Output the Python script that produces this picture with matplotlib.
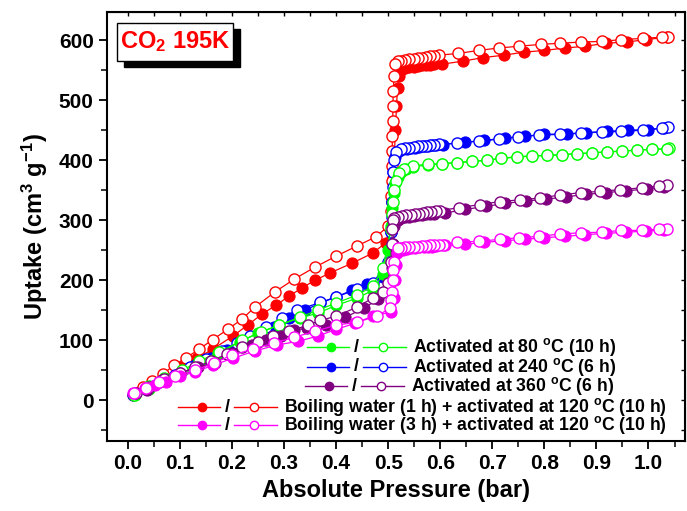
import matplotlib
matplotlib.use('Agg')
import matplotlib.pyplot as plt
from matplotlib.patches import Rectangle
from matplotlib.ticker import MultipleLocator

plt.rcParams['font.family'] = ['Liberation Sans', 'DejaVu Sans']
plt.rcParams['font.weight'] = 'bold'
plt.rcParams['mathtext.fontset'] = 'custom'
plt.rcParams['mathtext.rm'] = 'Liberation Sans:bold'
plt.rcParams['mathtext.bf'] = 'Liberation Sans:bold'
plt.rcParams['mathtext.it'] = 'Liberation Sans:bold'

# ---- data ----
# boiling water 1 h + 120 C
p_ads_red = [0.01, 0.04, 0.07, 0.105, 0.133, 0.163, 0.202, 0.23, 0.257, 0.284, 0.309, 0.334, 0.36, 0.388,
             0.43, 0.47, 0.495, 0.505, 0.508, 0.51, 0.512, 0.514, 0.516, 0.518, 0.52, 0.525, 0.533, 0.541,
             0.549, 0.557, 0.565, 0.573, 0.581, 0.589, 0.603, 0.643, 0.682, 0.722, 0.76, 0.80, 0.84, 0.879,
             0.919, 0.958, 0.996, 1.035]
v_ads_red = [8, 22, 38, 55, 70, 85, 107, 125, 143, 158, 173, 187, 200, 212,
             228, 245, 262, 290, 330, 370, 410, 450, 490, 520, 540, 550, 553, 555,
             556, 557, 558, 559, 559, 560, 560, 565, 571, 575, 580, 583, 587, 590,
             595, 597, 601, 605]
p_des_red = [1.038, 1.025, 0.989, 0.948, 0.91, 0.871, 0.831, 0.793, 0.752, 0.712, 0.674, 0.635, 0.597,
             0.589, 0.581, 0.573, 0.565, 0.557, 0.549, 0.541, 0.533, 0.525, 0.518, 0.513, 0.511, 0.51,
             0.509, 0.509, 0.508, 0.508, 0.507, 0.507, 0.506, 0.505, 0.50, 0.476, 0.44, 0.40, 0.36, 0.32,
             0.282, 0.244, 0.219, 0.192, 0.163, 0.137, 0.111, 0.088, 0.067, 0.046, 0.029]
v_des_red = [606, 605, 603, 601, 598, 597, 595, 593, 590, 587, 583, 578, 575,
             574, 573, 572, 571, 570, 569, 568, 567, 566, 565, 560, 540, 515,
             490, 465, 440, 415, 390, 365, 340, 315, 290, 272, 257, 240, 222, 202,
             180, 155, 135, 118, 101, 85, 70, 58, 43, 32, 22]

# activated 240 C
p_ads_blue = [0.01, 0.04, 0.07, 0.10, 0.13, 0.16, 0.19, 0.22, 0.25, 0.28, 0.31, 0.34, 0.37, 0.40, 0.43,
              0.46, 0.49, 0.50, 0.505, 0.508, 0.51, 0.513, 0.52, 0.528, 0.536, 0.544, 0.552, 0.56, 0.568,
              0.576, 0.584, 0.592, 0.605, 0.647, 0.685, 0.725, 0.763, 0.80, 0.843, 0.88, 0.92, 0.96, 1.0, 1.03]
v_ads_blue = [8, 20, 33, 45, 58, 70, 83, 95, 108, 122, 137, 150, 162, 172, 183,
              193, 205, 225, 280, 330, 380, 405, 415, 418, 419, 420, 421, 422, 423,
              424, 425, 425, 426, 430, 433, 437, 440, 443, 444, 446, 448, 450, 451, 454]
p_des_blue = [1.038, 1.025, 0.989, 0.948, 0.91, 0.87, 0.831, 0.79, 0.75, 0.712, 0.674, 0.633, 0.597,
              0.589, 0.581, 0.573, 0.565, 0.557, 0.549, 0.541, 0.533, 0.525, 0.516, 0.512, 0.51, 0.509,
              0.508, 0.507, 0.506, 0.505, 0.50, 0.47, 0.44, 0.40, 0.37, 0.325, 0.296, 0.265, 0.235, 0.21,
              0.18, 0.15, 0.12, 0.09, 0.06, 0.035]
v_des_blue = [455, 453, 450, 448, 447, 445, 443, 442, 439, 435, 432, 428, 427,
              426, 425, 424, 423, 423, 422, 421, 420, 418, 413, 400, 380, 355,
              330, 305, 280, 255, 230, 195, 185, 172, 163, 150, 137, 122, 107, 95,
              82, 68, 55, 42, 30, 18]

# activated 80 C
p_ads_green = [0.013, 0.04, 0.07, 0.104, 0.137, 0.173, 0.215, 0.25, 0.29, 0.33, 0.365, 0.40, 0.44, 0.47,
               0.49, 0.50, 0.505, 0.508, 0.512, 0.514, 0.518, 0.525, 0.535, 0.547, 0.576, 0.603, 0.632,
               0.661, 0.69, 0.717, 0.747, 0.776, 0.805, 0.834, 0.863, 0.891, 0.92, 0.949, 0.978, 1.007, 1.036]
v_ads_green = [8, 18, 32, 48, 62, 78, 97, 112, 125, 137, 145, 158, 170, 183,
               210, 250, 290, 320, 345, 362, 372, 380, 385, 389, 392, 394, 396,
               398, 400, 403, 405, 407, 408, 409, 411, 412, 414, 415, 417, 418, 419]
p_des_green = [1.04, 1.036, 1.007, 0.978, 0.949, 0.92, 0.891, 0.863, 0.834, 0.805, 0.776, 0.747, 0.717,
               0.69, 0.661, 0.632, 0.603, 0.576, 0.547, 0.53, 0.52, 0.515, 0.512, 0.51, 0.508, 0.505,
               0.49, 0.47, 0.44, 0.40, 0.365, 0.33, 0.29, 0.255, 0.22, 0.175, 0.137, 0.105, 0.07, 0.04, 0.012]
v_des_green = [420, 419, 418, 417, 415, 414, 412, 411, 409, 408, 407, 406, 403,
               400, 398, 396, 394, 393, 391, 385, 378, 365, 350, 330, 310, 285,
               220, 190, 175, 162, 150, 138, 125, 113, 100, 80, 65, 50, 37, 23, 8]

# activated 360 C
p_ads_purple = [0.014, 0.036, 0.066, 0.10, 0.135, 0.167, 0.20, 0.238, 0.265, 0.295, 0.32, 0.345, 0.38,
                0.417, 0.453, 0.48, 0.503, 0.508, 0.51, 0.512, 0.518, 0.525, 0.533, 0.541, 0.549, 0.557,
                0.565, 0.573, 0.581, 0.589, 0.61, 0.648, 0.687, 0.725, 0.765, 0.803, 0.842, 0.88, 0.918,
                0.957, 0.998, 1.03]
v_ads_purple = [12, 17, 33, 45, 55, 62, 78, 92, 100, 107, 117, 120, 125,
                138, 153, 168, 180, 220, 260, 290, 300, 303, 305, 306, 307, 308,
                309, 310, 311, 311, 312, 318, 323, 328, 332, 335, 339, 343, 346,
                349, 352, 356]
p_des_purple = [1.036, 1.02, 0.988, 0.946, 0.907, 0.87, 0.83, 0.792, 0.754, 0.714, 0.676, 0.637, 0.599,
                0.591, 0.583, 0.575, 0.567, 0.559, 0.551, 0.543, 0.535, 0.527, 0.519, 0.512, 0.509, 0.508,
                0.507, 0.505, 0.50, 0.49, 0.47, 0.44, 0.40, 0.37, 0.346, 0.31, 0.279, 0.25, 0.22, 0.19,
                0.16, 0.13, 0.10, 0.07, 0.04, 0.015]
v_des_purple = [358, 357, 354, 351, 348, 346, 342, 337, 334, 331, 326, 321, 316,
                315, 314, 313, 312, 311, 310, 309, 308, 307, 305, 303, 300, 285,
                260, 230, 195, 180, 170, 155, 140, 133, 125, 115, 107, 97, 88, 77,
                65, 55, 45, 35, 22, 12]

# boiling water 3 h + 120 C
p_ads_mag = [0.01, 0.034, 0.053, 0.074, 0.10, 0.129, 0.163, 0.202, 0.244, 0.286, 0.327, 0.365, 0.40,
             0.436, 0.47, 0.506, 0.512, 0.514, 0.515, 0.517, 0.52, 0.528, 0.536, 0.544, 0.552, 0.56,
             0.568, 0.576, 0.584, 0.592, 0.61, 0.648, 0.685, 0.724, 0.762, 0.80, 0.84, 0.879, 0.918,
             0.957, 0.996, 1.03]
v_ads_mag = [12, 20, 25, 30, 40, 47, 58, 70, 82, 92, 98, 107, 118,
             128, 140, 147, 170, 200, 225, 245, 250, 251, 252, 253, 254, 255,
             255, 256, 256, 257, 258, 260, 263, 266, 268, 271, 273, 276, 278,
             280, 282, 284]
p_des_mag = [1.035, 1.02, 0.987, 0.948, 0.91, 0.87, 0.83, 0.79, 0.752, 0.714, 0.675, 0.633, 0.605,
             0.597, 0.589, 0.581, 0.573, 0.565, 0.557, 0.549, 0.541, 0.533, 0.525, 0.518, 0.512, 0.51,
             0.509, 0.508, 0.506, 0.503, 0.478, 0.44, 0.40, 0.36, 0.32, 0.28, 0.24, 0.20, 0.165, 0.13,
             0.09, 0.06, 0.035, 0.012]
v_des_mag = [285, 285, 283, 283, 280, 279, 277, 273, 271, 268, 265, 263, 259,
             259, 258, 258, 257, 257, 256, 256, 255, 255, 254, 253, 230, 217,
             200, 180, 167, 153, 140, 130, 125, 115, 105, 95, 85, 75, 62, 50,
             40, 30, 20, 12]

series = [
    ('#ff0000', p_ads_red, v_ads_red, p_des_red, v_des_red),
    ('#0000ff', p_ads_blue, v_ads_blue, p_des_blue, v_des_blue),
    ('#00ff00', p_ads_green, v_ads_green, p_des_green, v_des_green),
    ('#800080', p_ads_purple, v_ads_purple, p_des_purple, v_des_purple),
    ('#ff00ff', p_ads_mag, v_ads_mag, p_des_mag, v_des_mag),
]

legend_rows = [
    ('#00ff00', r'Activated at 80 $^{\mathbf{o}}$C (10 h)', 0.346),
    ('#0000ff', r'Activated at 240 $^{\mathbf{o}}$C (6 h)', 0.346),
    ('#800080', r'Activated at 360 $^{\mathbf{o}}$C (6 h)', 0.343),
    ('#ff0000', r'Boiling water (1 h) + activated at 120 $^{\mathbf{o}}$C (10 h)', 0.123),
    ('#ff00ff', r'Boiling water (3 h) + activated at 120 $^{\mathbf{o}}$C (10 h)', 0.123),
]

fig = plt.figure(figsize=(6.87, 5.11), dpi=100)
ax = fig.add_axes([0.1557, 0.137, 0.8413, 0.8395])

for col, pa, va, pd_, vd in series:
    ax.plot(pa, va, '-o', color=col, lw=0.9, ms=8, mfc=col, mec=col, mew=0.8)
    ax.plot(pd_, vd, '-o', color=col, lw=0.9, ms=8, mfc='white', mec=col, mew=1.0)

ax.set_xlim(-0.04, 1.07)
ax.set_ylim(-68, 647)
ax.xaxis.set_major_locator(MultipleLocator(0.1))
ax.xaxis.set_minor_locator(MultipleLocator(0.05))
ax.yaxis.set_major_locator(MultipleLocator(100))
ax.yaxis.set_minor_locator(MultipleLocator(50))
ax.xaxis.set_major_formatter(matplotlib.ticker.FormatStrFormatter('%.1f'))
ax.tick_params(which='major', direction='out', length=6, width=1.3, labelsize=15)
ax.tick_params(which='minor', direction='out', length=4, width=1.1)
for s in ax.spines.values():
    s.set_linewidth(1.5)

# inward ticks on top and right
top = ax.secondary_xaxis('top')
top.xaxis.set_major_locator(MultipleLocator(0.1))
top.xaxis.set_minor_locator(MultipleLocator(0.05))
top.tick_params(which='both', direction='in', labeltop=False, length=3, width=1)
right = ax.secondary_yaxis('right')
right.yaxis.set_major_locator(MultipleLocator(100))
right.yaxis.set_minor_locator(MultipleLocator(50))
right.tick_params(which='both', direction='in', labelright=False, length=3, width=1)

ax.set_xlabel('Absolute Pressure (bar)', fontsize=17, fontweight='bold', labelpad=4)
ax.set_ylabel(r'Uptake (cm$^{\mathbf{3}}$ g$^{\mathbf{-1}}$)', fontsize=17, fontweight='bold', labelpad=6)

# title box with shadow
ax.add_patch(Rectangle((0.0294, 0.872), 0.2007, 0.0886, transform=ax.transAxes,
                       facecolor='black', edgecolor='black', zorder=5))
ax.add_patch(Rectangle((0.0173, 0.886), 0.2007, 0.0886, transform=ax.transAxes,
                       facecolor='white', edgecolor='black', lw=1.0, zorder=6))
ax.text(0.0173 + 0.2007 / 2, 0.886 + 0.0886 / 2, r'CO$_{\mathbf{2}}$ 195K', transform=ax.transAxes,
        color='#ff0000', fontsize=17, fontweight='bold', ha='center', va='center', zorder=7)

# legend drawn by hand
row_y = [0.219, 0.1725, 0.128, 0.079, 0.037]
for (col, label, x0), y in zip(legend_rows, row_y):
    xm1 = x0 + 0.041
    xs = x0 + 0.085
    xm2 = x0 + 0.131
    xe = x0 + 0.171
    kw = dict(transform=ax.transAxes, clip_on=False, color=col, lw=1.0, zorder=8)
    ax.plot([x0, xs - 0.012], [y, y], **kw)
    ax.plot([xs + 0.012, xe], [y, y], **kw)
    ax.plot([xm1], [y], 'o', ms=6, mfc=col, mec=col, **kw)
    ax.plot([xm2], [y], 'o', ms=6, mfc='white', mec=col, mew=1.0, **kw)
    ax.text(xs, y, '/', transform=ax.transAxes, fontsize=13, fontweight='bold',
            ha='center', va='center', zorder=9)
    ax.text(xe + 0.012, y, label, transform=ax.transAxes, fontsize=12.7, fontweight='bold',
            ha='left', va='center', zorder=9)

fig.savefig('out.png', dpi=100)
